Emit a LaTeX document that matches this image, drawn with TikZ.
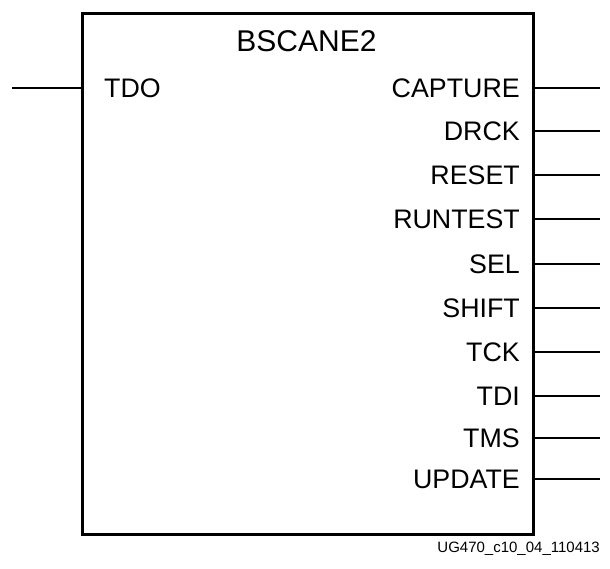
\documentclass[tikz,border=0pt]{standalone}
\usepackage{fontspec}
\setmainfont{Liberation Sans}
\usetikzlibrary{positioning}

\begin{document}
\begin{tikzpicture}[
    x=1pt, y=-1pt,
    block/.style={rectangle, draw, line width=3pt, minimum width=451pt, minimum height=521pt, inner sep=0pt},
    title/.style={font=\fontsize{30}{34}\selectfont, inner sep=0pt},
    pinlabel/.style={font=\fontsize{26.8}{31}\selectfont, inner sep=0pt},
    note/.style={font=\fontsize{15}{18}\selectfont, inner sep=0pt},
    wire/.style={line width=1.1pt}
]
\useasboundingbox (0,0) rectangle (610,568);
\node[block, anchor=north west] (bscan) at (81,12) {};
\node[title] (name) at (306.5,41) {BSCANE2};

% left side
\node[pinlabel, anchor=west] (tdo) at (104,88) {TDO};
\coordinate (tdoend) at (12,88);
\draw[wire] (tdoend) -- (bscan.west |- tdoend);

% right side
\foreach \pin/\ypos in {CAPTURE/88, DRCK/131, RESET/175, RUNTEST/219, SEL/264,
                        SHIFT/308, TCK/352, TDI/396, TMS/438, UPDATE/479} {
    \node[pinlabel, anchor=east] (\pin) at (520,\ypos) {\pin};
    \coordinate (\pin end) at (600,\ypos);
    \draw[wire] (bscan.east |- \pin end) -- (\pin end);
}

\node[note, anchor=east] (figid) at (600,549) {UG470\_c10\_04\_110413};
\end{tikzpicture}
\end{document}
